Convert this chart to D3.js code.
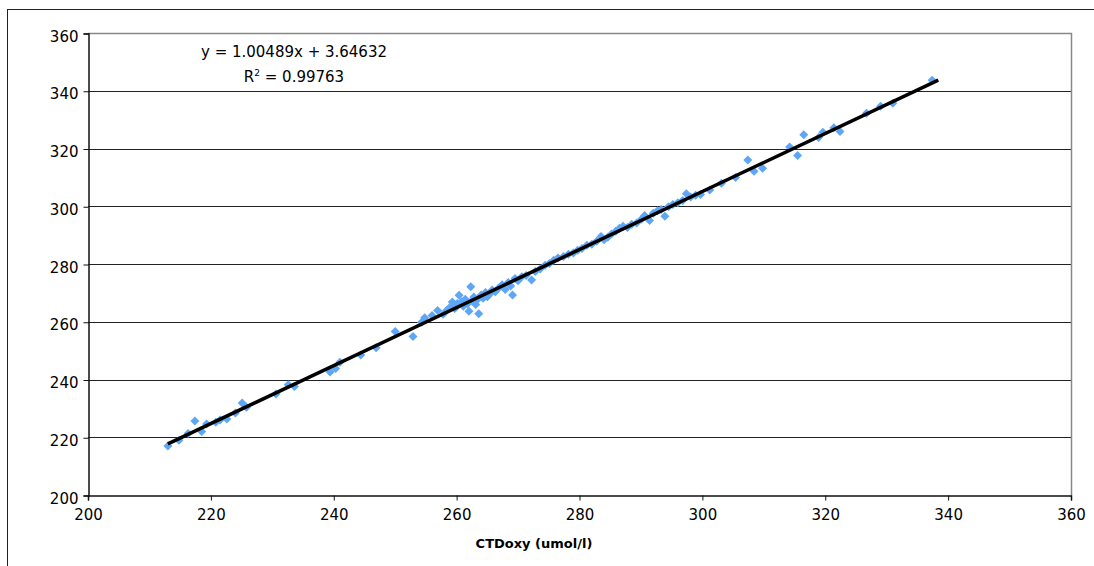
<!DOCTYPE html>
<html>
<head>
<meta charset="utf-8">
<script src="https://cdn.jsdelivr.net/npm/d3@7"></script>
<style>
  body { margin: 0; background: #fff; }
  svg { display: block; }
  text { font-family: "DejaVu Sans", Verdana, sans-serif; fill: #000; }
</style>
</head>
<body>
<svg id="chart" width="1094" height="566"></svg>
<script>
// CTD oxygen (x) against bottle oxygen (y), umol/l
var ctdOxy = [213.0, 214.8, 216.3, 217.4, 218.5, 219.3, 220.8, 221.5, 222.6, 224.0, 225.1, 225.8,
  230.6, 232.6, 233.6, 239.4, 240.3, 241.0, 244.4, 246.9, 250.0, 252.9, 254.3, 254.8, 256.0, 256.9,
  257.8, 258.4, 259.0, 259.3, 259.7, 260.1, 260.4, 260.8, 261.1, 261.4, 261.8, 262.0, 262.3, 262.5,
  262.8, 263.1, 263.4, 263.6, 264.0, 264.3, 264.7, 265.0, 265.4, 265.8, 266.3, 266.8, 267.4, 267.9,
  268.4, 268.8, 269.1, 269.5, 270.0, 270.6, 271.3, 272.2, 272.8, 273.6, 274.4, 275.1, 275.8, 276.5,
  277.4, 278.2, 279.0, 279.7, 280.4, 281.2, 282.0, 282.8, 283.5, 284.0, 284.6, 285.2, 285.9, 286.5,
  287.1, 287.8, 288.5, 289.3, 290.1, 290.6, 291.4, 292.0, 292.7, 293.3, 293.9, 294.5, 295.2, 296.0,
  296.8, 297.4, 298.1, 298.9, 299.7, 301.2, 303.1, 305.4, 307.4, 308.4, 309.8, 314.2, 315.5, 316.5,
  318.9, 319.6, 321.4, 322.4, 326.7, 329.0, 331.0, 337.4];
var bottleOxy = [217.0, 219.0, 221.3, 225.6, 222.0, 224.6, 225.2, 226.0, 226.3, 228.4, 231.9, 230.4,
  235.0, 238.2, 237.6, 242.6, 243.8, 246.0, 248.5, 251.0, 256.6, 254.9, 259.8, 261.4, 262.2, 263.9,
  262.6, 264.0, 265.2, 266.8, 264.6, 266.3, 269.2, 266.9, 265.4, 267.8, 266.2, 263.6, 272.1, 267.3,
  268.6, 266.0, 267.7, 262.8, 269.3, 268.1, 270.1, 268.7, 269.6, 271.0, 270.4, 271.6, 272.8, 271.2,
  273.6, 272.4, 269.3, 275.0, 274.2, 275.6, 276.0, 274.5, 277.4, 278.3, 279.6, 280.2, 281.3, 282.1,
  282.6, 283.4, 283.8, 284.8, 285.4, 286.5, 286.8, 287.9, 289.5, 288.4, 289.3, 290.4, 291.3, 292.4,
  293.1, 292.6, 293.8, 294.2, 295.6, 296.8, 295.1, 297.6, 298.4, 298.9, 296.5, 299.8, 300.6, 301.2,
  302.0, 304.3, 303.2, 303.8, 304.1, 305.6, 308.0, 310.0, 316.0, 312.1, 313.2, 320.5, 317.6, 324.8,
  323.8, 325.6, 327.2, 325.9, 332.2, 334.6, 335.7, 343.6];

var xTicks = [200, 220, 240, 260, 280, 300, 320, 340, 360];
var yTicks = [200, 220, 240, 260, 280, 300, 320, 340, 360];
var fitSlope = 1.00489;
var fitIntercept = 3.64632;
var fitRange = [213.0, 338.4];
var eqText = 'y = 1.00489x + 3.64632';
var r2Value = '0.99763';
var xTitle = 'CTDoxy (umol/l)';

var draw = function() {
  var svg = d3.select('#chart');
  var pLeft = 88, pRight = 1071, pTop = 33, pBottom = 495;

  var x = d3.scaleLinear().domain([200, 360]).range([pLeft, pRight]);
  var y = d3.scaleLinear().domain([200, 360]).range([pBottom, pTop]);

  // outer chart frame
  svg.append('line').attr('x1', 7).attr('x2', 1094).attr('y1', 9.5).attr('y2', 9.5)
    .attr('stroke', '#222').attr('stroke-width', 1);
  svg.append('line').attr('x1', 7.5).attr('x2', 7.5).attr('y1', 9).attr('y2', 566)
    .attr('stroke', '#222').attr('stroke-width', 1);

  // gridlines
  svg.append('g').selectAll('line').data(yTicks.slice(1, -1)).enter().append('line')
    .attr('x1', pLeft).attr('x2', pRight)
    .attr('y1', d => Math.round(y(d)) + 0.5).attr('y2', d => Math.round(y(d)) + 0.5)
    .attr('stroke', '#222').attr('stroke-width', 1);

  // plot area border (top & right)
  svg.append('path')
    .attr('d', 'M' + pLeft + ',' + (pTop + 0.5) + 'H' + (pRight + 0.5) + 'V' + pBottom)
    .attr('fill', 'none').attr('stroke', '#888').attr('stroke-width', 1.5);

  // axes
  var yAxis = d3.axisLeft(y).tickValues(yTicks).tickSize(5).tickPadding(5);
  var xAxis = d3.axisBottom(x).tickValues(xTicks).tickSize(5).tickPadding(9);

  var gy = svg.append('g').attr('transform', 'translate(' + (pLeft + 0.5) + ',0.5)').call(yAxis);
  var gx = svg.append('g').attr('transform', 'translate(0,' + (pBottom + 0.5) + ')').call(xAxis);
  [gx, gy].forEach(function(g) {
    g.select('.domain').attr('stroke', '#111').attr('stroke-width', 1.5);
    g.selectAll('.tick line').attr('stroke', '#111');
    g.selectAll('.tick text').style('font-size', '15px').attr('fill', '#000')
      .style('font-family', '"DejaVu Sans", Verdana, sans-serif');
  });
  gy.selectAll('.tick text').attr('dy', '0.5em');

  // points
  var pts = ctdOxy.map((d, i) => ({ x: d, y: bottleOxy[i] }));
  svg.append('g').selectAll('path').data(pts).enter().append('path')
    .attr('d', 'M0,-4.5L4.5,0L0,4.5L-4.5,0Z')
    .attr('fill', '#5ea6f6')
    .attr('transform', d => 'translate(' + x(d.x) + ',' + y(d.y) + ')');

  // trendline
  svg.append('line')
    .attr('x1', x(fitRange[0])).attr('y1', y(fitSlope * fitRange[0] + fitIntercept))
    .attr('x2', x(fitRange[1])).attr('y2', y(fitSlope * fitRange[1] + fitIntercept))
    .attr('stroke', '#000').attr('stroke-width', 3.5);

  // equation text
  svg.append('text').attr('x', 294).attr('y', 57).attr('text-anchor', 'middle')
    .style('font-size', '15px').text(eqText);
  var r2 = svg.append('text').attr('x', 294).attr('y', 82).attr('text-anchor', 'middle')
    .style('font-size', '15px');
  r2.append('tspan').text('R');
  r2.append('tspan').attr('dy', -6).style('font-size', '9px').text('2');
  r2.append('tspan').attr('dy', 6).text(' = ' + r2Value);

  // axis title
  svg.append('text').attr('x', 534).attr('y', 548).attr('text-anchor', 'middle')
    .style('font-size', '13px').style('font-weight', 'bold').text(xTitle);
};

draw();
</script>
</body>
</html>
